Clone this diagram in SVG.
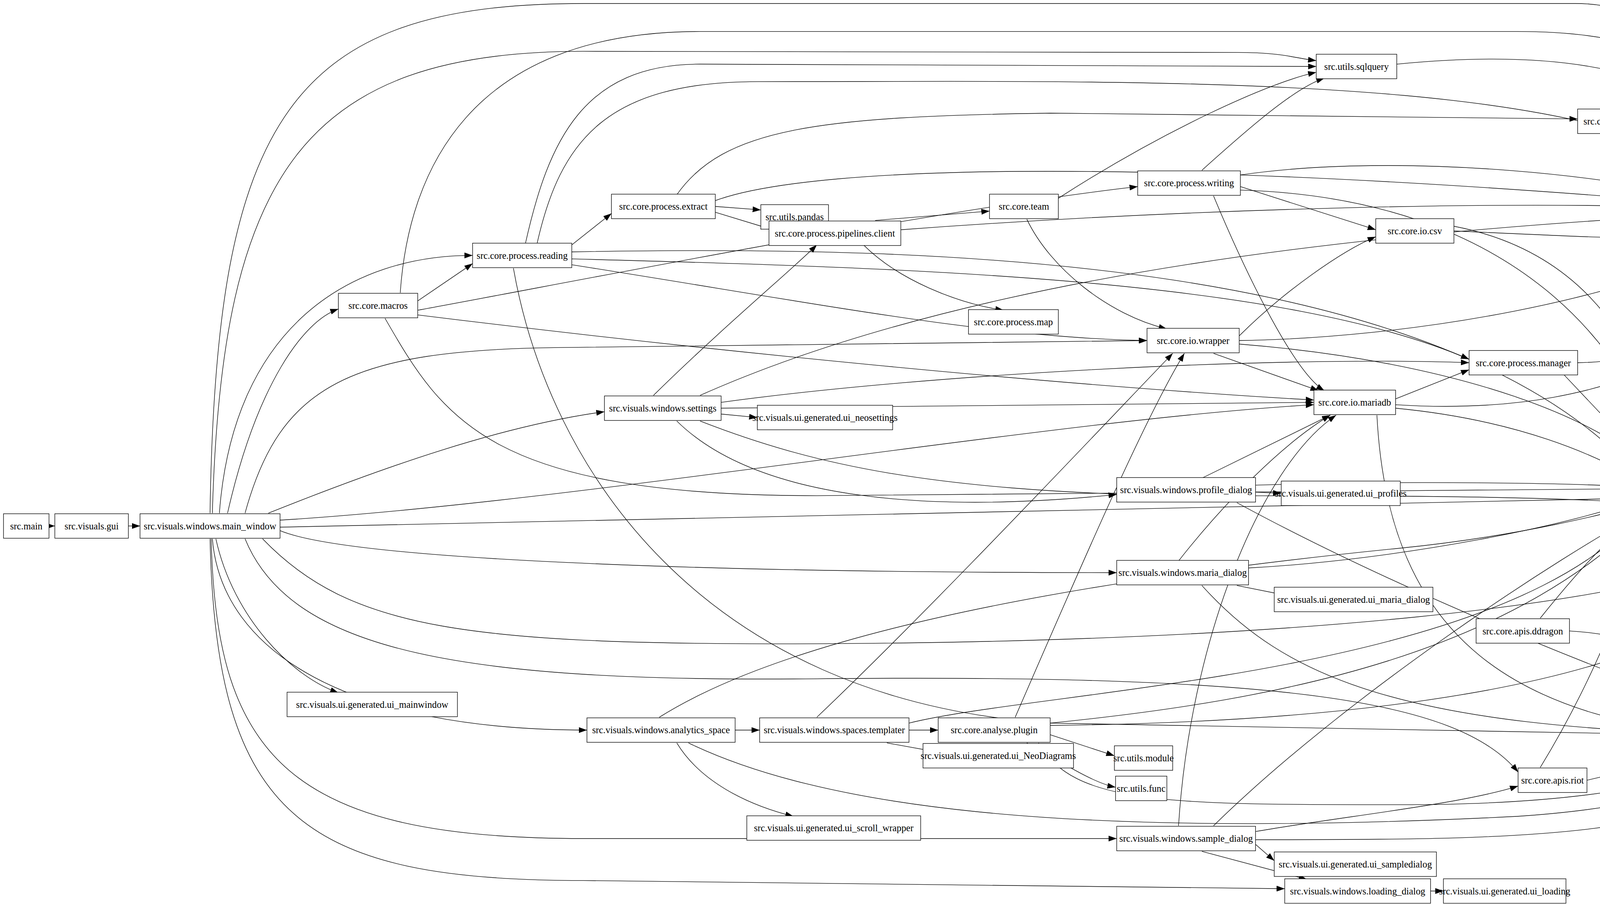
<svg xmlns="http://www.w3.org/2000/svg" width="4684" height="2318" viewBox="0 0 4684 2318">
<style>
rect{fill:#fff;stroke:#000;stroke-width:0.45}
text{font-family:"Liberation Serif",serif;font-size:8.1px;text-anchor:middle;dominant-baseline:central;fill:#000}
#edges path{fill:none;stroke:#000;stroke-width:0.45;marker-end:url(#a)}
</style>
<defs><marker id="a" markerUnits="userSpaceOnUse" markerWidth="7" markerHeight="5" refX="7" refY="2.5" orient="auto"><path d="M0,0 L7,2.5 L0,5 z" fill="#000"/></marker></defs>
<rect width="4684" height="2318" fill="#fff" style="stroke:none"/>
<g transform="scale(2.9872)">
<g id="edges">
<path d="M42 451 L47 451"/>
<path d="M110 451 L120 451"/>
<path d="M180 440 C185 100 250 3 500 3 L1350 3 C1450 3 1500 100 1505 171"/>
<path d="M182 440 C190 150 260 44 500 44 L1060 45 C1100 45 1110 50 1128 52"/>
<path d="M188 440 C200 280 300 219 405 219"/>
<path d="M195 440 C220 330 260 275 290 265"/>
<path d="M210 440 C240 330 300 300 480 298 L983 292"/>
<path d="M230 440 C330 400 430 365 518 353"/>
<path d="M240 446 C500 430 900 360 1126 347"/>
<path d="M240 452 L1411 427"/>
<path d="M240 455 C300 480 600 491 957 491"/>
<path d="M225 462 C300 540 400 553 700 552 C1100 550 1400 520 1511 470"/>
<path d="M210 462 C250 560 400 585 700 582 C1100 578 1250 600 1301 662"/>
<path d="M185 462 C200 530 250 580 290 594"/>
<path d="M182 462 C190 560 300 626 503 626"/>
<path d="M181 462 C185 650 250 719 500 719 L957 719"/>
<path d="M180 462 C185 700 260 755 500 755 L1101 762"/>
<path d="M358 258 L405 226"/>
<path d="M343 251 C350 150 400 27 600 27 L1300 27 C1450 27 1490 80 1510 172"/>
<path d="M358 266 C500 240 800 180 975 160"/>
<path d="M358 270 C600 300 900 330 1126 343"/>
<path d="M330 273 C380 360 420 425 700 425 L1411 419"/>
<path d="M450 210 C470 120 500 55 600 55 L1128 57"/>
<path d="M460 210 C480 120 520 70 650 70 C1000 70 1400 60 1500 172"/>
<path d="M490 210 L524 183"/>
<path d="M490 216 C800 210 1250 220 1411 416"/>
<path d="M490 222 C800 230 1100 240 1259 308"/>
<path d="M490 227 C700 260 850 290 983 292"/>
<path d="M440 230 C470 400 600 600 900 620 L1497 631"/>
<path d="M580 167 C620 110 700 100 900 97 L1352 102"/>
<path d="M613 172 C700 140 1000 135 1497 178"/>
<path d="M613 177 L652 180"/>
<path d="M613 182 L659 196"/>
<path d="M750 189 L848 181"/>
<path d="M772 197 C1000 180 1300 170 1497 180"/>
<path d="M740 210 C770 240 820 260 860 266"/>
<path d="M907 170 C1000 110 1090 70 1128 62"/>
<path d="M880 188 C900 230 950 270 1000 282"/>
<path d="M1197 55 C1350 40 1480 60 1515 172"/>
<path d="M1450 114 L1510 172"/>
<path d="M1030 146 C1070 110 1110 75 1135 67"/>
<path d="M1063 150 C1200 130 1400 150 1497 180"/>
<path d="M1063 160 L1179 197"/>
<path d="M1063 163 C1300 170 1400 300 1430 411"/>
<path d="M1040 168 C1070 240 1110 320 1135 335"/>
<path d="M1246 198 C1400 205 1480 210 1518 192"/>
<path d="M1246 194 C1380 220 1420 330 1430 411"/>
<path d="M1062 288 C1100 250 1150 215 1179 203"/>
<path d="M1062 292 C1200 290 1400 260 1522 192"/>
<path d="M1062 295 C1250 310 1380 360 1422 411"/>
<path d="M1040 303 L1130 335"/>
<path d="M1352 311 C1440 310 1500 260 1525 192"/>
<path d="M1340 321 L1425 411"/>
<path d="M1196 342 L1259 317"/>
<path d="M1196 347 C1400 360 1510 280 1528 192"/>
<path d="M1196 350 C1300 360 1370 390 1411 416"/>
<path d="M1180 356 C1190 550 1300 620 1497 633"/>
<path d="M560 339 C620 280 680 230 700 210"/>
<path d="M600 339 C800 250 1100 200 1497 182"/>
<path d="M618 345 C800 320 1100 305 1259 311"/>
<path d="M618 350 L1126 345"/>
<path d="M618 355 L649 358"/>
<path d="M600 361 C700 400 800 420 1000 425 C1300 425 1480 425 1520 455"/>
<path d="M580 361 C650 430 800 440 957 424"/>
<path d="M1030 410 L1140 356"/>
<path d="M1076 422 L1098 423"/>
<path d="M1076 416 C1200 412 1350 414 1411 418"/>
<path d="M1060 431 C1150 480 1300 550 1500 621"/>
<path d="M1440 411 C1470 350 1510 250 1532 192"/>
<path d="M1466 425 L1511 458"/>
<path d="M1450 432 C1480 500 1500 580 1510 621"/>
<path d="M1010 481 C1050 430 1100 380 1140 356"/>
<path d="M1070 487 C1200 480 1350 450 1411 426"/>
<path d="M1060 502 L1100 510"/>
<path d="M1030 502 C1100 580 1200 625 1497 630"/>
<path d="M1320 530 C1360 480 1390 450 1415 432"/>
<path d="M1345 541 C1420 545 1480 580 1505 621"/>
<path d="M630 626 L651 626"/>
<path d="M565 615 C700 530 1000 490 1200 470 C1300 460 1380 440 1413 430"/>
<path d="M590 637 C700 690 900 720 1300 700 C1450 690 1480 660 1500 640"/>
<path d="M580 637 C600 670 640 690 680 700"/>
<path d="M700 615 C800 520 950 360 1005 303"/>
<path d="M779 626 L804 626"/>
<path d="M760 637 L810 646"/>
<path d="M779 620 C900 590 1300 580 1413 432"/>
<path d="M870 615 C920 500 980 360 1015 303"/>
<path d="M900 620 C1100 600 1300 560 1420 432"/>
<path d="M900 622 C1100 620 1450 600 1520 475"/>
<path d="M900 630 L955 648"/>
<path d="M880 637 C920 660 940 672 956 675"/>
<path d="M890 637 C920 690 1000 690 1200 690 C1400 690 1470 660 1500 642"/>
<path d="M1320 658 C1380 560 1400 480 1425 432"/>
<path d="M1360 669 L1497 637"/>
<path d="M1010 708 C1020 550 1080 400 1145 356"/>
<path d="M1040 708 C1150 600 1330 480 1420 432"/>
<path d="M1076 713 C1150 700 1250 690 1301 674"/>
<path d="M1076 720 C1300 720 1480 720 1515 642"/>
<path d="M1076 724 L1092 738"/>
<path d="M1030 730 L1120 754"/>
<path d="M1226 764 L1237 764"/>
</g>
<g id="n_main"><rect x="3" y="440.5" width="39" height="21"/><text x="22.5" y="451">src.main</text></g>
<g id="n_gui"><rect x="47" y="440.5" width="63" height="21"/><text x="78.5" y="451">src.visuals.gui</text></g>
<g id="n_mw"><rect x="120" y="440.5" width="120" height="21"/><text x="180" y="451">src.visuals.windows.main_window</text></g>
<g id="n_macros"><rect x="290" y="251.5" width="68" height="21"/><text x="324" y="262">src.core.macros</text></g>
<g id="n_reading"><rect x="405" y="208.5" width="85" height="21"/><text x="447.5" y="219">src.core.process.reading</text></g>
<g id="n_extract"><rect x="524" y="166.5" width="89" height="21"/><text x="568.5" y="177">src.core.process.extract</text></g>
<g id="n_pandas"><rect x="652" y="175.5" width="58" height="21"/><text x="681" y="186">src.utils.pandas</text></g>
<g id="n_client"><rect x="659" y="189.5" width="113" height="21"/><text x="715.5" y="200">src.core.process.pipelines.client</text></g>
<g id="n_team"><rect x="848" y="166.5" width="59" height="21"/><text x="877.5" y="177">src.core.team</text></g>
<g id="n_sqlquery"><rect x="1128" y="46.5" width="69" height="21"/><text x="1162.5" y="57">src.utils.sqlquery</text></g>
<g id="n_matchv5"><rect x="1352" y="93.5" width="123" height="21"/><text x="1413.5" y="104">src.core.process.pipelines.matchv5</text></g>
<g id="n_meta"><rect x="1497" y="171.5" width="65" height="21"/><text x="1529.5" y="182">src.core.meta</text></g>
<g id="n_writing"><rect x="975" y="146.5" width="88" height="21"/><text x="1019" y="157">src.core.process.writing</text></g>
<g id="n_csv"><rect x="1179" y="187.5" width="67" height="21"/><text x="1212.5" y="198">src.core.io.csv</text></g>
<g id="n_map"><rect x="830" y="265.5" width="77" height="21"/><text x="868.5" y="276">src.core.process.map</text></g>
<g id="n_wrapper"><rect x="983" y="281.5" width="79" height="21"/><text x="1022.5" y="292">src.core.io.wrapper</text></g>
<g id="n_manager"><rect x="1259" y="300.5" width="93" height="21"/><text x="1305.5" y="311">src.core.process.manager</text></g>
<g id="n_mariadb"><rect x="1126" y="334.5" width="70" height="21"/><text x="1161" y="345">src.core.io.mariadb</text></g>
<g id="n_settings"><rect x="518" y="339.5" width="100" height="21"/><text x="568" y="350">src.visuals.windows.settings</text></g>
<g id="n_neoset"><rect x="649" y="347.5" width="116" height="21"/><text x="707" y="358">src.visuals.ui.generated.ui_neosettings</text></g>
<g id="n_profile"><rect x="957" y="409.5" width="119" height="21"/><text x="1016.5" y="420">src.visuals.windows.profile_dialog</text></g>
<g id="n_uiprof"><rect x="1098" y="412.5" width="102" height="21"/><text x="1149" y="423">src.visuals.ui.generated.ui_profiles</text></g>
<g id="n_config"><rect x="1411" y="410.5" width="55" height="21"/><text x="1438.5" y="421">src.core.config</text></g>
<g id="n_path"><rect x="1511" y="454.5" width="51" height="21"/><text x="1536.5" y="465">src.utils.path</text></g>
<g id="n_maria"><rect x="957" y="480.5" width="113" height="21"/><text x="1013.5" y="491">src.visuals.windows.maria_dialog</text></g>
<g id="n_uimaria"><rect x="1092" y="503.5" width="136" height="21"/><text x="1160" y="514">src.visuals.ui.generated.ui_maria_dialog</text></g>
<g id="n_ddragon"><rect x="1265" y="530.5" width="80" height="21"/><text x="1305" y="541">src.core.apis.ddragon</text></g>
<g id="n_uimain"><rect x="246" y="593.5" width="146" height="21"/><text x="319" y="604">src.visuals.ui.generated.ui_mainwindow</text></g>
<g id="n_analytics"><rect x="503" y="615.5" width="127" height="21"/><text x="566.5" y="626">src.visuals.windows.analytics_space</text></g>
<g id="n_templater"><rect x="651" y="615.5" width="128" height="21"/><text x="715" y="626">src.visuals.windows.spaces.templater</text></g>
<g id="n_plugin"><rect x="804" y="615.5" width="96" height="21"/><text x="852" y="626">src.core.analyse.plugin</text></g>
<g id="n_neodiag"><rect x="791" y="637.5" width="129" height="21"/><text x="855.5" y="648">src.visuals.ui.generated.ui_NeoDiagrams</text></g>
<g id="n_module"><rect x="955" y="639.5" width="50" height="21"/><text x="980" y="650">src.utils.module</text></g>
<g id="n_func"><rect x="956" y="665.5" width="44" height="21"/><text x="978" y="676">src.utils.func</text></g>
<g id="n_riot"><rect x="1301" y="658.5" width="59" height="21"/><text x="1330.5" y="669">src.core.apis.riot</text></g>
<g id="n_io"><rect x="1497" y="620.5" width="41" height="21"/><text x="1517.5" y="631">src.utils.io</text></g>
<g id="n_scroll"><rect x="640" y="699.5" width="149" height="21"/><text x="714.5" y="710">src.visuals.ui.generated.ui_scroll_wrapper</text></g>
<g id="n_sample"><rect x="957" y="708.5" width="119" height="21"/><text x="1016.5" y="719">src.visuals.windows.sample_dialog</text></g>
<g id="n_uisample"><rect x="1092" y="730.5" width="139" height="21"/><text x="1161.5" y="741">src.visuals.ui.generated.ui_sampledialog</text></g>
<g id="n_loading"><rect x="1101" y="753.5" width="125" height="21"/><text x="1163.5" y="764">src.visuals.windows.loading_dialog</text></g>
<g id="n_uiload"><rect x="1237" y="753.5" width="105" height="21"/><text x="1289.5" y="764">src.visuals.ui.generated.ui_loading</text></g>
</g>
</svg>
